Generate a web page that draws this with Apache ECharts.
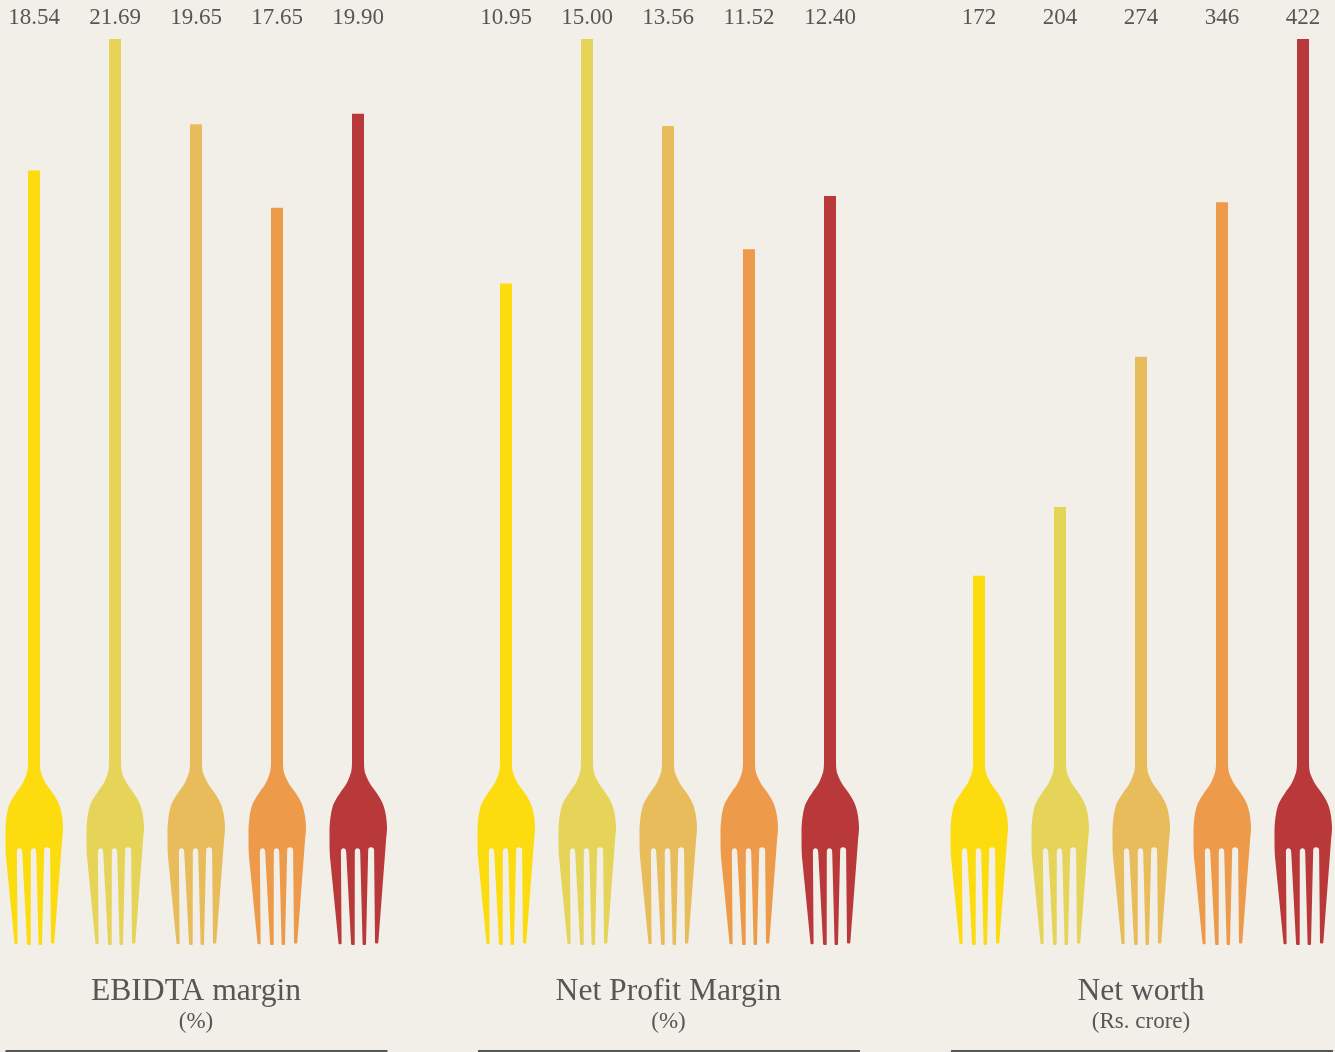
<!DOCTYPE html>
<html>
<head>
<meta charset="utf-8">
<style>
  html, body { margin: 0; padding: 0; background: #f2efe8; }
  #chart { width: 1335px; height: 1052px; }
</style>
<script src="https://cdn.jsdelivr.net/npm/echarts@6/dist/echarts.min.js"></script>
</head>
<body>
<div id="chart"></div>
<script>
// Five consecutive readings per panel, one fork per reading.
const ebidtaValues = [18.54, 21.69, 19.65, 17.65, 19.90];
const ebidtaLabels = ['18.54', '21.69', '19.65', '17.65', '19.90'];
const profitValues = [10.95, 15.00, 13.56, 11.52, 12.40];
const profitLabels = ['10.95', '15.00', '13.56', '11.52', '12.40'];
const worthValues = [172, 204, 274, 346, 422];
const worthLabels = ['172', '204', '274', '346', '422'];

const panelTitles = ['EBIDTA margin', 'Net Profit Margin', 'Net worth'];
const panelUnits = ['(%)', '(%)', '(Rs. crore)'];
const forkColors = ['#fcdc0e', '#e5d458', '#e8bc5a', '#ed9b4a', '#b93839'];

const INK = '#565656';
const FONT = '"Liberation Serif", serif';
const STEM_WIDTH = 12;

// Fork head outline, origin at the centre of the tine tips.
const HEAD_PATH =
  'M-6 -182 C-6 -176 -6.8 -172.5 -8 -169.5 C-9.5 -165.5 -11 -162 -13 -159 C-16 -155 -21 -148 -24.5 -141 ' +
  'C-27 -134 -28.5 -124 -28.5 -112 C-28.5 -102 -28.5 -94 -28 -88 ' +
  'L-19.5 -1.8 Q-19.4 -0.8 -18.4 -0.8 L-17.2 -0.8 Q-16.4 -0.8 -16.4 -1.8 L-17.1 -93 ' +
  'Q-17.1 -96.7 -14.5 -96.7 Q-12 -96.7 -11.8 -93 L-6.9 -1 Q-6.8 0 -5.8 0 ' +
  'L-4.2 0 Q-3.3 0 -3.3 -1 L-3.2 -93 Q-3.2 -96.7 -0.5 -96.7 Q2.1 -96.7 2.2 -93 ' +
  'L4.6 -1 Q4.7 0 5.6 0 L7.1 0 Q7.9 0 8 -1 L10.2 -95 Q10.3 -97.7 13 -97.7 ' +
  'Q15.9 -97.7 16.1 -95 L17 -2.5 Q17.1 -1.5 18 -1.5 L19.3 -1.5 Q20.2 -1.5 20.3 -2.5 ' +
  'L28.3 -108 C28.8 -112 29 -114 29 -117 C29 -125 27.5 -134 25.3 -140 ' +
  'C23 -146 19 -152 15 -157 C12 -161 9.5 -165.5 8 -169.5 C6.8 -172.5 6 -176 6 -182 Z';
const HEAD_LEFT = -28.5;
const HEAD_TOP = -182;
const HEAD_WIDTH = 57.5;
const HEAD_HEIGHT = 182;

// The stem rises from the head to the value; the head sits on the zero line.
function renderFork(params, api) {
  const index = api.value(0);
  const tip = api.coord([index, api.value(1)]);
  const base = api.coord([index, 0]);
  const color = forkColors[index];
  return {
    type: 'group',
    children: [
      {
        type: 'rect',
        shape: {
          x: tip[0] - STEM_WIDTH / 2,
          y: tip[1],
          width: STEM_WIDTH,
          height: base[1] + HEAD_TOP + 2 - tip[1]
        },
        style: { fill: color }
      },
      {
        type: 'path',
        shape: {
          pathData: HEAD_PATH,
          layout: 'cover',
          x: base[0] + HEAD_LEFT,
          y: base[1] + HEAD_TOP,
          width: HEAD_WIDTH,
          height: HEAD_HEIGHT
        },
        style: { fill: color }
      }
    ]
  };
}

const panels = [
  { left: -6.5, center: 196, ruleX: 5.5, ruleW: 382, values: ebidtaValues, labels: ebidtaLabels },
  { left: 465.5, center: 668.5, ruleX: 478, ruleW: 382, values: profitValues, labels: profitLabels },
  { left: 938.5, center: 1141, ruleX: 951, ruleW: 382, values: worthValues, labels: worthLabels }
];

const chart = echarts.init(document.getElementById('chart'), null, { renderer: 'canvas' });
chart.setOption({
  animation: false,
  backgroundColor: '#f2efe8',
  tooltip: { show: false },
  title: panels.map((p, i) => ({
    text: panelTitles[i],
    subtext: panelUnits[i],
    left: p.center,
    top: 975,
    textAlign: 'center',
    itemGap: 2,
    padding: 0,
    textStyle: { fontFamily: FONT, fontSize: 31.6, fontWeight: 'normal', color: INK, lineHeight: 33 },
    subtextStyle: { fontFamily: FONT, fontSize: 23, color: INK, lineHeight: 24 }
  })),
  grid: panels.map(p => ({
    left: p.left,
    top: 39,
    width: 405,
    height: 906,
    outerBoundsMode: 'none'
  })),
  xAxis: panels.map((p, i) => ({
    type: 'category',
    gridIndex: i,
    position: 'top',
    data: p.labels,
    axisLine: { show: false },
    axisTick: { show: false },
    splitLine: { show: false },
    axisLabel: { interval: 0, margin: 10, fontFamily: FONT, fontSize: 23, color: INK, hideOverlap: false }
  })),
  yAxis: panels.map((p, i) => ({
    type: 'value',
    gridIndex: i,
    show: false,
    min: 0,
    max: Math.max(...p.values),
    splitLine: { show: false }
  })),
  series: panels.map((p, i) => ({
    type: 'custom',
    xAxisIndex: i,
    yAxisIndex: i,
    renderItem: renderFork,
    encode: { x: 0, y: 1 },
    data: p.values.map((v, k) => [k, v])
  })),
  graphic: panels.map(p => ({
    type: 'rect',
    shape: { x: p.ruleX, y: 1050, width: p.ruleW, height: 2 },
    style: { fill: INK }
  }))
});
</script>
</body>
</html>
